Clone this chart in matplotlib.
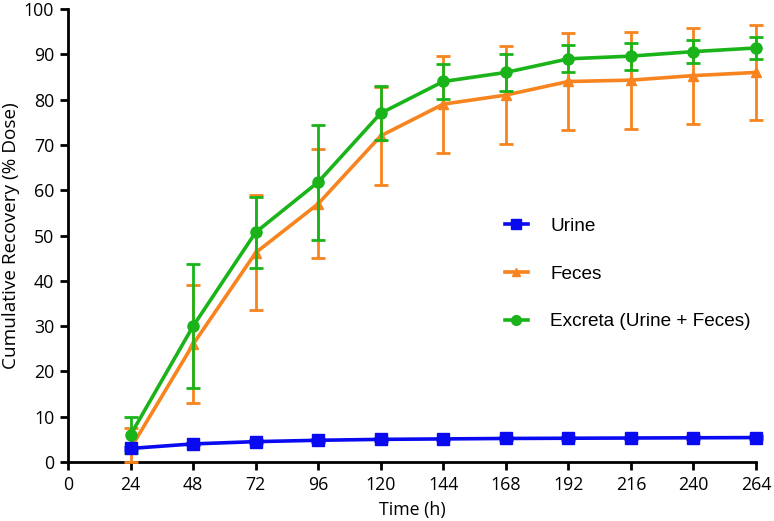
import matplotlib
matplotlib.use("Agg")
import matplotlib.pyplot as plt
from matplotlib.lines import Line2D

time_h = [24, 48, 72, 96, 120, 144, 168, 192, 216, 240, 264]
urine = [3.0, 4.0, 4.5, 4.8, 5.0, 5.1, 5.2, 5.25, 5.3, 5.35, 5.4]
urine_err_lo = [0.3, 0.3, 0.3, 0.3, 0.3, 0.3, 0.3, 0.3, 0.3, 0.3, 0.3]
urine_err_hi = [0.3, 0.3, 0.3, 0.3, 0.3, 0.3, 0.3, 0.3, 0.3, 0.3, 0.3]
feces = [3.0, 26.0, 46.2, 57.0, 72.0, 79.0, 81.0, 84.0, 84.3, 85.3, 86.0]
feces_err_lo = [3.0, 13.0, 12.7, 12.0, 10.8, 10.7, 10.8, 10.7, 10.7, 10.6, 10.5]
feces_err_hi = [4.5, 13.0, 12.7, 12.0, 10.8, 10.7, 10.8, 10.7, 10.7, 10.6, 10.5]
excreta = [6.0, 30.0, 50.7, 61.8, 77.0, 84.0, 86.0, 89.0, 89.6, 90.6, 91.4]
excreta_err_lo = [4.0, 13.7, 7.8, 12.7, 6.0, 3.8, 4.0, 3.0, 3.0, 2.6, 2.5]
excreta_err_hi = [4.0, 13.7, 7.8, 12.7, 6.0, 3.8, 4.0, 3.0, 3.0, 2.6, 2.5]
xticks = [0, 24, 48, 72, 96, 120, 144, 168, 192, 216, 240, 264]
yticks = [0, 10, 20, 30, 40, 50, 60, 70, 80, 90, 100]
labels = ["Urine", "Feces", "Excreta (Urine + Feces)"]

c_urine = "#0A0AF0"
c_feces = "#F7841E"
c_excreta = "#1AB41A"

fig = plt.figure(figsize=(7.74, 5.21), dpi=100)
ax = fig.add_axes([0.0879, 0.1132, 0.8888, 0.8695])

tick_font = "Open Sans"
leg_font = "Liberation Sans"

common = dict(linewidth=2.6, elinewidth=2.0, capsize=5, capthick=2.0)
series = [
    (urine, [urine_err_lo, urine_err_hi], c_urine, "s", 8, 5),
    (feces, [feces_err_lo, feces_err_hi], c_feces, "^", 7, 3),
    (excreta, [excreta_err_lo, excreta_err_hi], c_excreta, "o", 8, 4),
]
handles = []
for (vals, err, col, mk, ms, z), lab in zip(series, labels):
    cont = ax.errorbar(time_h, vals, yerr=err, color=col, marker=mk, markersize=ms,
                       zorder=z, **common)
    cont.lines[0].set_clip_on(False)
    for art in cont.lines[1]:
        art.set_clip_on(False)
    for coll in cont.lines[2]:
        coll.set_clip_on(False)
    handles.append(Line2D([], [], color=col, marker=mk, markersize=ms - 1,
                          linewidth=2.6, label=lab))

ax.set_xlim(0, 264)
ax.set_ylim(0, 100)
ax.set_xticks(xticks)
ax.set_yticks(yticks)
for s in ["top", "right"]:
    ax.spines[s].set_visible(False)
for s in ["left", "bottom"]:
    ax.spines[s].set_linewidth(2.0)
ax.tick_params(axis="both", direction="out", length=6, width=2.0, labelsize=12.8, pad=4)
for lab in ax.get_xticklabels() + ax.get_yticklabels():
    lab.set_fontfamily(tick_font)

ax.set_xlabel("Time (h)", fontsize=12.8, fontfamily=tick_font, labelpad=5)
ax.set_ylabel("Cumulative Recovery (% Dose)", fontsize=13.7, fontfamily=tick_font, labelpad=3)

leg = ax.legend(handles=handles, loc="center left", bbox_to_anchor=(0.61, 0.415), frameon=False,
                prop={"family": leg_font, "size": 13.7}, labelspacing=1.6,
                handlelength=1.2, handletextpad=1.2)

fig.savefig("out.png", dpi=100)
